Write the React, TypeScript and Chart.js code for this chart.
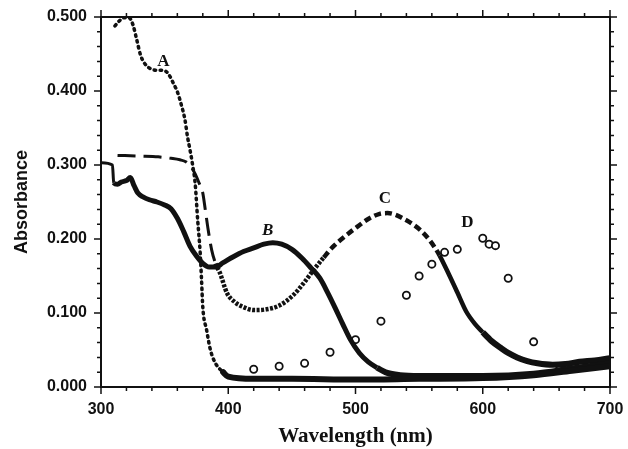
import { useEffect, useRef } from "react";
import { Chart, registerables } from "chart.js";

Chart.register(...registerables);

// Curve A (dotted, UV band then baseline)
const curveAWavelength = [311, 314, 318, 322, 325, 328, 331, 334, 338, 344, 349, 353, 357, 360, 363, 366, 368, 370, 372, 374, 376, 378, 379, 380, 383, 386, 390, 396, 400, 420, 450, 500, 550, 600, 640, 670, 700];
const curveAAbsorbance = [0.488, 0.494, 0.499, 0.499, 0.49, 0.47, 0.449, 0.438, 0.431, 0.428, 0.428, 0.423, 0.41, 0.399, 0.382, 0.361, 0.338, 0.32, 0.3, 0.275, 0.225, 0.18, 0.145, 0.108, 0.077, 0.05, 0.032, 0.02, 0.014, 0.011, 0.011, 0.01, 0.011, 0.012, 0.016, 0.022, 0.028];

// Curve B (solid, band at ~435 nm)
const curveBWavelength = [300, 309, 310, 313, 316, 320, 323, 326, 329, 333, 338, 344, 350, 355, 360, 365, 370, 375, 380, 385, 390, 396, 404, 412, 420, 428, 435, 442, 450, 458, 465, 472, 478, 484, 490, 496, 503, 510, 517, 525, 535, 550, 600, 640, 670, 700];
const curveBAbsorbance = [0.303, 0.3, 0.276, 0.274, 0.277, 0.279, 0.283, 0.272, 0.262, 0.257, 0.253, 0.25, 0.246, 0.241, 0.228, 0.21, 0.19, 0.177, 0.167, 0.162, 0.162, 0.168, 0.176, 0.183, 0.188, 0.193, 0.195, 0.193, 0.186, 0.174, 0.161, 0.147, 0.128, 0.107, 0.085, 0.064, 0.046, 0.034, 0.026, 0.019, 0.016, 0.015, 0.015, 0.018, 0.025, 0.032];

// Curve C (long dash plateau, then band at ~525 nm)
const curveCWavelength = [313, 330, 345, 355, 362, 367, 371, 374, 377, 380, 382, 384, 387, 390, 393.5, 399, 405, 412, 420, 430, 440, 451, 460, 467, 475, 482, 492, 501, 510, 519, 525, 531, 537, 545, 551, 558, 566, 574, 580, 587, 594, 600, 607, 614, 620, 627, 635, 643, 655, 665, 676, 688, 700];
const curveCAbsorbance = [0.313, 0.312, 0.311, 0.309, 0.307, 0.304, 0.297, 0.288, 0.276, 0.262, 0.239, 0.215, 0.185, 0.167, 0.154, 0.127, 0.115, 0.108, 0.104, 0.105, 0.11, 0.124, 0.142, 0.158, 0.175, 0.189, 0.204, 0.216, 0.227, 0.234, 0.235, 0.233, 0.228, 0.22, 0.212, 0.199, 0.178, 0.15, 0.128, 0.102, 0.085, 0.074, 0.062, 0.053, 0.046, 0.04, 0.035, 0.032, 0.03, 0.031, 0.034, 0.036, 0.039];

// Curve D (open circles)
const curveDWavelength = [420, 440, 460, 480, 500, 520, 540, 550, 560, 570, 580, 600, 605, 610, 620, 640, 660];
const curveDAbsorbance = [0.024, 0.028, 0.032, 0.047, 0.064, 0.089, 0.124, 0.15, 0.166, 0.182, 0.186, 0.201, 0.193, 0.191, 0.147, 0.061, 0.023];

const xTickValues = [300, 400, 500, 600, 700];
const yTickValues = [0, 0.1, 0.2, 0.3, 0.4, 0.5];

const curveLabels = ["A", "B", "C", "D"];
const labelWavelength = [349, 431, 523, 588];
const labelAbsorbance = [0.44, 0.212, 0.255, 0.222];

const INK = "#111111";

const toPoints = (xs: number[], ys: number[]) => xs.map((x, i) => ({ x, y: ys[i] }));

const framePlugin = {
  id: "frameAndTicks",
  afterDraw(chart: any) {
    const { ctx, chartArea, scales } = chart;
    const { left, right, top, bottom } = chartArea;
    const xs = scales.x;
    const ys = scales.y;
    ctx.save();
    ctx.strokeStyle = INK;
    ctx.lineWidth = 2;
    ctx.strokeRect(left, top, right - left, bottom - top);
    ctx.lineWidth = 1.5;
    for (let v = 300; v <= 700; v += 20) {
      const major = v % 100 === 0;
      const len = major ? 7 : 4;
      const px = xs.getPixelForValue(v);
      ctx.beginPath();
      ctx.moveTo(px, bottom);
      ctx.lineTo(px, bottom + len);
      ctx.moveTo(px, top);
      ctx.lineTo(px, top - len);
      ctx.stroke();
    }
    for (let i = 0; i <= 25; i++) {
      const v = i * 0.02;
      const major = i % 5 === 0;
      const len = major ? 7 : 4;
      const py = ys.getPixelForValue(v);
      ctx.beginPath();
      ctx.moveTo(left, py);
      ctx.lineTo(left - len, py);
      ctx.moveTo(right, py);
      ctx.lineTo(right + len, py);
      ctx.stroke();
    }
    ctx.fillStyle = INK;
    ctx.textAlign = "center";
    ctx.textBaseline = "middle";
    curveLabels.forEach((t, i) => {
      ctx.font = (t === "B" ? "italic " : "") + "bold 17px 'Liberation Serif'";
      ctx.fillText(t, xs.getPixelForValue(labelWavelength[i]), ys.getPixelForValue(labelAbsorbance[i]));
    });
    ctx.restore();
  },
};

export default function App() {
  const ref = useRef<HTMLCanvasElement | null>(null);
  useEffect(() => {
    if (!ref.current) return;
    const chart = new Chart(ref.current, {
      type: "line",
      data: {
        datasets: [
          {
            label: "A",
            data: toPoints(curveAWavelength, curveAAbsorbance),
            borderColor: INK,
            borderWidth: 3,
            pointRadius: 0,
            cubicInterpolationMode: "monotone",
            borderCapStyle: "round",
            segment: {
              borderDash: (c: any) => (c.p0.parsed.x < 396 ? [1.5, 4.5] : []),
              borderWidth: (c: any) => (c.p0.parsed.x < 396 ? 3.5 : 6),
            },
          },
          {
            label: "B",
            data: toPoints(curveBWavelength, curveBAbsorbance),
            borderColor: INK,
            borderWidth: 5,
            pointRadius: 0,
            cubicInterpolationMode: "monotone",
            segment: {
              borderWidth: (c: any) => (c.p0.parsed.x < 300.5 || (c.p0.parsed.x >= 309 && c.p0.parsed.x < 310) ? 3 : c.p0.parsed.x > 510 ? 6 : 5),
            },
          },
          {
            label: "C",
            data: toPoints(curveCWavelength, curveCAbsorbance),
            borderColor: INK,
            borderWidth: 3,
            pointRadius: 0,
            cubicInterpolationMode: "monotone",
            segment: {
              borderDash: (c: any) => {
                const x = c.p0.parsed.x;
                if (x < 388) return [18, 8];
                if (x < 470) return [3, 1.5];
                if (x < 565) return [7, 4];
                return [];
              },
              borderWidth: (c: any) => {
                const x = c.p0.parsed.x;
                if (x < 388) return 3;
                if (x < 600) return 4.5;
                return 6;
              },
            },
          },
          {
            label: "D",
            data: toPoints(curveDWavelength, curveDAbsorbance),
            showLine: false,
            pointRadius: 3.6,
            pointStyle: "circle",
            pointBackgroundColor: "#ffffff",
            pointBorderColor: INK,
            pointBorderWidth: 1.8,
          },
        ],
      },
      options: {
        responsive: false,
        animation: false,
        layout: { padding: { left: 0, top: 17, right: 18, bottom: 0 } },
        plugins: { legend: { display: false }, tooltip: { enabled: false } },
        scales: {
          x: {
            type: "linear",
            min: 300,
            max: 700,
            afterBuildTicks: (s: any) => {
              s.ticks = xTickValues.map((v) => ({ value: v }));
            },
            ticks: {
              color: INK,
              padding: 13,
              maxRotation: 0,
              font: { family: "'Liberation Sans'", size: 16, weight: "bold" },
              callback: (v: any) => String(v),
            },
            grid: { display: false, drawTicks: false },
            border: { display: false },
            title: {
              display: true,
              text: "Wavelength (nm)",
              color: INK,
              font: { family: "'Liberation Serif'", size: 21, weight: "bold" },
              padding: { top: 0, bottom: 0 },
            },
            afterFit: (s: any) => {
              s.height = 62;
              s.paddingLeft = 0;
              s.paddingRight = 0;
            },
          },
          y: {
            type: "linear",
            min: 0,
            max: 0.5,
            afterBuildTicks: (s: any) => {
              s.ticks = yTickValues.map((v) => ({ value: v }));
            },
            ticks: {
              color: INK,
              padding: 14,
              font: { family: "'Liberation Sans'", size: 16, weight: "bold" },
              callback: (v: any) => Number(v).toFixed(3),
            },
            grid: { display: false, drawTicks: false },
            border: { display: false },
            title: {
              display: true,
              text: "Absorbance",
              color: INK,
              font: { family: "'Liberation Sans'", size: 18, weight: "bold" },
              padding: { top: 11, bottom: 0 },
            },
            afterFit: (s: any) => {
              s.width = 101;
              s.paddingTop = 0;
              s.paddingBottom = 0;
            },
          },
        },
      },
      plugins: [framePlugin],
    } as any);
    return () => chart.destroy();
  }, []);
  return (
    <div style={{ position: "fixed", left: 0, top: 0, width: 628, height: 449, background: "#fff" }}>
      <canvas ref={ref} width={628} height={449} style={{ display: "block" }} />
    </div>
  );
}
